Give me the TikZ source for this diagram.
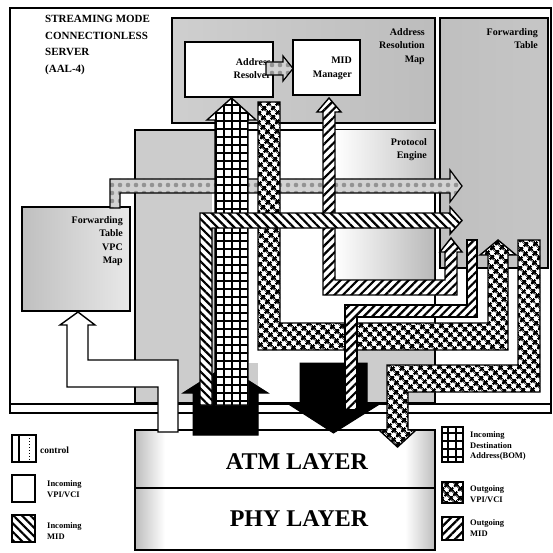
\documentclass[tikz,border=0pt]{standalone}
\usepackage{fontspec}
\setmainfont{Liberation Serif}
\usetikzlibrary{patterns.meta}
\begin{document}
\begin{tikzpicture}[x=1pt,y=-1pt,
  box/.style={draw=black,line width=1.6pt},
  graybox/.style={box,fill=gray!40},
  whitebox/.style={box,fill=white},
  lab/.style={font=\fontsize{10}{13.5}\selectfont\bfseries,align=right,anchor=north east,inner sep=0pt},
  leg/.style={font=\fontsize{8.5}{10.5}\selectfont\bfseries,align=left,anchor=west,inner sep=0pt},
  gridp/.style={draw=black,line width=1.4pt,preaction={fill=white},pattern={Hatch[angle=0,distance=8pt,line width=1.4pt]}},
  xp/.style={draw=black,line width=1.4pt,preaction={fill=white},pattern={Hatch[angle=45,distance=6.5pt,line width=2.4pt]}},
  hin/.style={draw=black,line width=1.4pt,preaction={fill=white},pattern={Lines[angle=-45,distance=6pt,line width=2.2pt]}},
  hout/.style={draw=black,line width=1.4pt,preaction={fill=white},pattern={Lines[angle=45,distance=6pt,line width=2.2pt]}},
  dotp/.style={draw=black,line width=1.2pt,preaction={fill=gray!35},pattern={Dots[distance=8pt,radius=2.3pt]},pattern color=gray!85},
  blk/.style={fill=black,draw=black,line width=1pt},
  wp/.style={fill=white,draw=black,line width=1.4pt},
]
\useasboundingbox (0,0) rectangle (553,553);
\fill[white] (0,0) rectangle (553,553);
% frame
\draw[line width=2pt] (10,8) rectangle (551,413);
% layers
\path[fill=white] (135,430) rectangle (435,550);
\shade[left color=gray!50,right color=white] (136,431) rectangle (165,549);
\shade[left color=white,right color=gray!50] (405,431) rectangle (434,549);
\draw[line width=2pt] (135,430) rectangle (435,550);
\draw[line width=1.6pt] (135,488) -- (435,488);
\node[font=\fontsize{24}{24}\selectfont\bfseries] (atm) at (297,462) {ATM LAYER};
\node[font=\fontsize{24}{24}\selectfont\bfseries] (phy) at (299,519) {PHY LAYER};
% gray boxes
\path[box,left color=gray!38,right color=gray!52] (172,18) rectangle (435,123);
\path[box,left color=gray!50,middle color=gray!10,right color=gray!45] (440,18) rectangle (548,268);
\path[graybox] (135,130) rectangle (435,403);
\path[box,left color=gray!50,right color=gray!18] (22,207) rectangle (130,311);
% white overlays on protocol engine
\fill[white] (248,131) rectangle (323,363);
\fill[white] (212,193) rectangle (434,213);
\fill[white] (323,295) rectangle (434,323);
\fill[white] (258,350) rectangle (345,363);
\fill[white] (258,363) rectangle (300,402);
\shade[left color=white,right color=gray!48] (335,131) rectangle (434,179);
\shade[left color=white,right color=gray!55] (335,228) rectangle (434,280);
\draw[line width=1.2pt] (10,404) -- (551,404);
% incoming VPI/VCI white path
\path[wp] (67,387) -- (158,387) -- (158,432) -- (178,432) -- (178,360) -- (88,360) -- (88,325) -- (95,325) -- (78,312) -- (60,325) -- (67,325) -- cycle;
% white boxes
\path[whitebox] (185,42) rectangle (273,97);
\path[whitebox] (293,40) rectangle (360,95);
% labels
\node[lab] (arm) at (425,28) {Address\\Resolution\\Map};
\node[lab] (ft) at (538,28) {Forwarding\\Table};
\node[lab] (ar) at (271,58) {Address\\Resolver};
\node[lab] (mid) at (352,57) {MID\\Manager};
\node[lab] (pe) at (427,138) {Protocol\\Engine};
\node[lab] (vpc) at (123,216) {Forwarding\\Table\\VPC\\Map};
\node[font=\fontsize{11}{16.7}\selectfont\bfseries,align=left,anchor=north west,inner sep=0pt] (title) at (45,15) {STREAMING MODE\\CONNECTIONLESS\\SERVER\\(AAL-4)};
% small dotted arrow
\path[dotp] (266,62) -- (283,62) -- (283,56) -- (293,68.5) -- (283,81) -- (283,75) -- (266,75) -- cycle;
% big dotted arrow
\path[dotp] (110,208) -- (110,179) -- (450,179) -- (450,170) -- (462,186) -- (450,202) -- (450,193) -- (120,193) -- (120,208) -- cycle;
% black arrows
\path[blk] (193,435) -- (193,393) -- (183,393) -- (225.5,366) -- (268,393) -- (258,393) -- (258,435) -- cycle;
\path[blk] (300,363) -- (367,363) -- (367,405) -- (378,405) -- (333.5,433) -- (290,405) -- (300,405) -- cycle;
% outgoing VPI/VCI
\path[xp] (258,102) -- (280,102) -- (280,323) -- (488,323) -- (488,255) -- (480,255) -- (498,240) -- (516,255) -- (508,255) -- (508,350) -- (258,350) -- cycle;
\path[xp] (518,240) -- (540,240) -- (540,392) -- (408,392) -- (408,430) -- (416,430) -- (397.5,447) -- (379,430) -- (387,430) -- (387,365) -- (518,365) -- cycle;
% incoming destination address
\path[gridp] (215,405) -- (215,120) -- (207,120) -- (231.5,98) -- (256,120) -- (248,120) -- (248,405) -- cycle;
% outgoing MID
\path[hout] (323,295) -- (323,112) -- (317,112) -- (329,98) -- (341,112) -- (335,112) -- (335,280) -- (445,280) -- (445,252) -- (440,252) -- (451,238) -- (462,252) -- (457,252) -- (457,295) -- cycle;
\path[hout] (467,240) -- (477,240) -- (477,317) -- (357,317) -- (357,410) -- (345,410) -- (345,305) -- (467,305) -- cycle;
% incoming MID
\path[hin] (200,405) -- (200,213) -- (450,213) -- (450,207) -- (462,220.5) -- (450,234) -- (450,228) -- (212,228) -- (212,405) -- cycle;
% legend left
\draw[line width=2pt] (12,435) rectangle (36,462);
\draw[line width=1.2pt] (19,435) -- (19,462);
\draw[line width=1pt,dotted] (29,435) -- (29,462);
\node[leg,font=\fontsize{9.5}{10}\selectfont\bfseries] (lc) at (40,450) {control};
\draw[line width=2pt,fill=white] (12,475) rectangle (35,502);
\node[leg] (lv) at (47,489) {Incoming\\VPI/VCI};
\path[hin,line width=2pt] (12,515) rectangle (35,542);
\node[leg] (lm) at (47,531) {Incoming\\MID};
% legend right
\path[gridp,line width=2pt] (442,427) rectangle (463,462);
\node[leg] (rd) at (470,446) {Incoming\\Destination\\Address(BOM)};
\path[xp,line width=2pt] (442,482) rectangle (463,503);
\node[leg] (ro) at (470,494) {Outgoing\\VPI/VCI};
\path[hout,line width=2pt] (442,517) rectangle (463,540);
\node[leg] (rm) at (470,528) {Outgoing\\MID};
\end{tikzpicture}
\end{document}
